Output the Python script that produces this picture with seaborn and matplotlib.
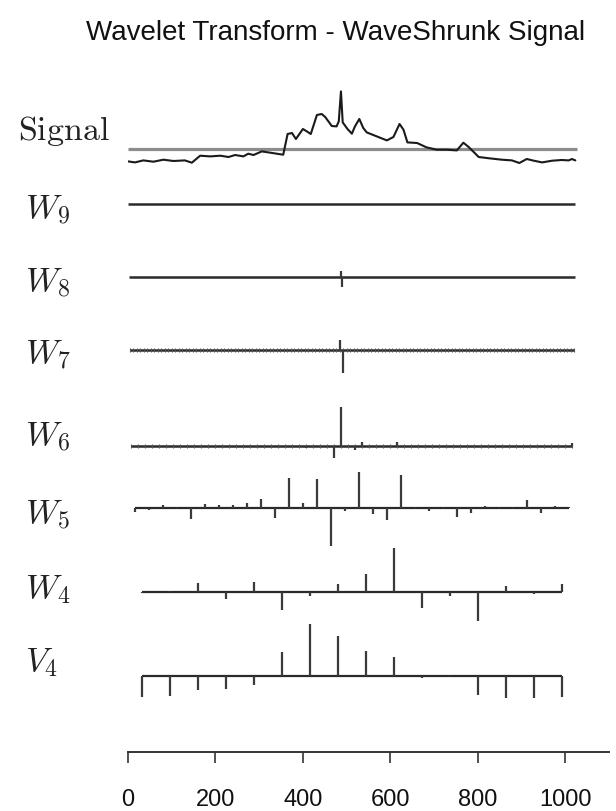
import numpy as np
import pandas as pd
import seaborn as sns
import matplotlib.pyplot as plt

# signal (x position, height above the reference line)
sig_x = [0, 16, 35, 58, 81, 104, 130, 146, 165, 188, 211, 230, 245, 264, 275, 287, 306, 321,
         355, 365, 375, 384, 400, 409, 418, 432, 443, 451, 466, 477, 482, 487, 491, 502, 512,
         519, 529, 538, 546, 569, 592, 607, 621, 630, 639, 661, 683, 706, 729, 752, 767, 779,
         802, 828, 855, 878, 895, 912, 928, 947, 970, 992, 1008, 1015, 1023]
sig_y = [-12.4, -13.4, -11.4, -12.7, -10.7, -12, -11.4, -13.7, -6.7, -7.4, -6.7, -8, -6, -7.4,
         -4.7, -6, -2.4, -3.4, -5.7, 15, 16, 10, 20, 17.6, 15, 34, 35, 32, 23, 22.6, 27.6, 57.6,
         26.6, 20, 15.3, 22.6, 30, 21, 16.6, 12.6, 8.6, 12, 25, 19.3, 6.6, 6, 1.6, -0.7, -0.7,
         -1.4, 6.3, 2, -8, -9.4, -10.7, -11.4, -14, -10, -11.7, -13.4, -11.7, -11, -11.4, -10, -11.4]

# wavelet coefficients (only the visible non-zero ones for the fine levels)
w9_pos, w9_val = [], []
w8_pos, w8_val = [486, 490], [6, -10]
w7_pos, w7_val = [484, 492], [10, -23]
w6_pos = [408, 472, 488, 520, 536, 616, 1016]
w6_val = [-2, -12, 39, -4, 4, 4, 3]
w5_val = [-4, -2, 3, 1, -11, 4, 3, 3, 5, 9, -10, 30, 5, 29, -38, -3,
          36, -6, -12, 33, 1, -3, 1, -9, -5, 2, -1, 1, 8, -5, 2, 1]
w4_val = [-1, 1, 9, -7, 10, -18, -4, 8, 18, 44, -16, -4, -29, 6, -2, 8]
v4_val = [-21, -20, -14, -13, -9, 24, 52, 40, 25, 19, -2, 1, -19, -22, -22, -21]

labels = [r'$\mathrm{Signal}$', '$W_9$', '$W_8$', '$W_7$', '$W_6$', '$W_5$', '$W_4$', '$V_4$']
xticks = [0, 200, 400, 600, 800, 1000]

sns.set_style('white')
plt.rcParams['mathtext.fontset'] = 'cm'
plt.rcParams['font.family'] = ['Liberation Sans', 'DejaVu Sans']

W, H = 616, 811
fig = plt.figure(figsize=(W / 100, H / 100), dpi=100)
ax = fig.add_axes([128 / W, 59 / H, 481 / W, 692 / H])
ax.set_xlim(0, 1100)
ax.set_ylim(752, 60)  # y in pixel rows, downward


def level_grid(j):
    sp = 2 ** (10 - j)
    return sp // 2 + sp * np.arange(1024 // sp)


stem_c = '#3a3a3a'
sig_base = 149
ax.hlines(sig_base, 0, 1027, color='#8c8c8c', lw=2.3)
df = pd.DataFrame({'x': sig_x, 'y': sig_base - np.array(sig_y)})
sns.lineplot(data=df, x='x', y='y', ax=ax, color='#1a1a1a', lw=1.5, sort=False, estimator=None)

rows = [(9, 204, w9_pos, w9_val), (8, 277, w8_pos, w8_val), (7, 350, w7_pos, w7_val),
        (6, 446, w6_pos, w6_val)]
for j, base, pos, val in rows:
    grid = level_grid(j)
    ax.hlines(base, grid[0], grid[-1], color='#2a2a2a', lw=1.8)
    if j in (7, 6):
        ax.vlines(grid, base - 1.6, base + 1.6, color='#555555', lw=0.8)
    if pos:
        ax.vlines(pos, base, base - np.array(val), color=stem_c, lw=1.6)

for j, base, val in [(5, 508, w5_val), (4, 592, w4_val), (4, 676, v4_val)]:
    grid = level_grid(j)
    ax.hlines(base, grid[0], grid[-1], color='#2a2a2a', lw=1.6)
    ax.vlines(grid, base, base - np.array(val), color=stem_c, lw=1.6)

sns.despine(ax=ax, left=True)
ax.set_yticks([])
ax.set_xticks(xticks)
ax.set_xlabel('')
ax.set_ylabel('')
ax.spines['bottom'].set_color('#333333')
ax.spines['bottom'].set_linewidth(1.4)
ax.tick_params(axis='x', bottom=True, direction='out', length=8, width=1.2,
               color='#333333', pad=19, labelsize=17, labelcolor='#111111')

# row labels
lab_y = [131, 210, 283, 355, 437, 515, 590, 663]
lab_x = [18, 25, 25, 25, 25, 25, 25, 25]
for t, lx, ly in zip(labels, lab_x, lab_y):
    fig.text(lx / W, 1 - ly / H, t, ha='left', va='center', fontsize=24.5, color='#222222')

fig.text(336 / W, 1 - 33 / H, 'Wavelet Transform - WaveShrunk Signal',
         ha='center', va='center', fontsize=20, color='#111111')

fig.savefig('out.png', dpi=100)
